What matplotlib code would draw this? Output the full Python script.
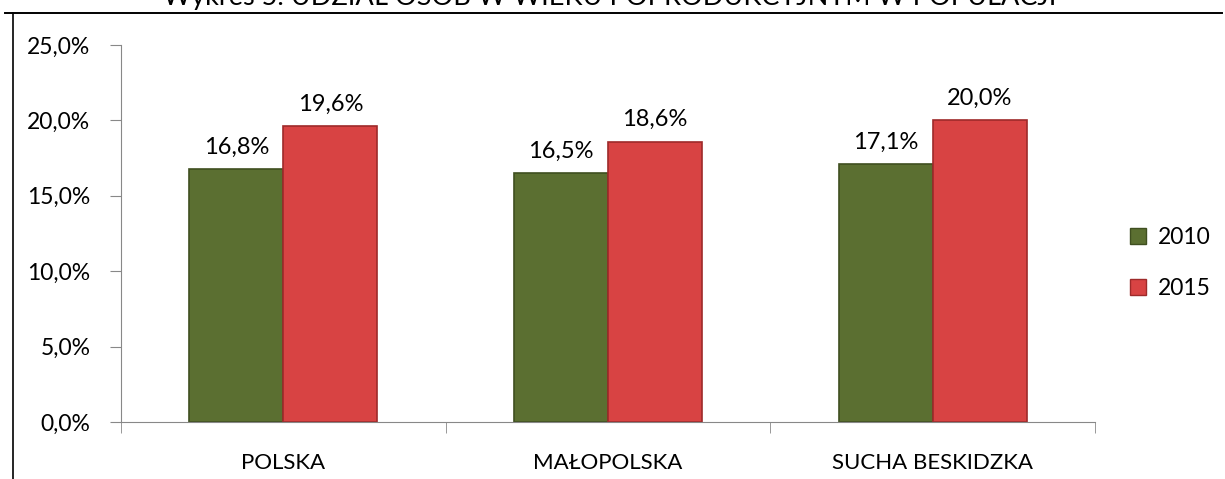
import matplotlib.pyplot as plt
import matplotlib.ticker as ticker
from matplotlib.lines import Line2D
import numpy as np

categories = ['POLSKA', 'MAŁOPOLSKA', 'SUCHA BESKIDZKA']
years = ['2010', '2015']
values_2010 = [16.8, 16.5, 17.1]
values_2015 = [19.6, 18.6, 20.0]

colors = ['#5b6f31', '#d84343']
edges = ['#3f4f20', '#9e2a2a']

plt.rcParams['font.family'] = ['Lato', 'DejaVu Sans']

fig = plt.figure(figsize=(12.25, 4.79), dpi=100)
ax = fig.add_axes([121/1225, 1 - 422/479, (1095-121)/1225, (422-45)/479])

x = np.arange(len(categories))
w = 0.29

for i, (vals, c, e, lab) in enumerate(zip([values_2010, values_2015], colors, edges, years)):
    pos = x + (i - 0.5) * w
    ax.bar(pos, vals, width=w, color=c, edgecolor=e, linewidth=1.2, label=lab)
    for p, v in zip(pos, vals):
        ax.text(p, v + 0.75, f'{v:.1f}%'.replace('.', ','), ha='center', va='bottom', fontsize=17)

ax.set_xlim(-0.5, 2.5)
ax.set_ylim(0, 25)
ax.yaxis.set_major_locator(ticker.MultipleLocator(5))
ax.yaxis.set_major_formatter(ticker.FuncFormatter(lambda v, p: f'{v:.1f}%'.replace('.', ',')))
ax.set_xticks(x)
ax.set_xticklabels(categories)
ax.set_xticks([-0.5, 0.5, 1.5, 2.5], minor=True)
ax.tick_params(axis='x', which='major', length=0, pad=22, labelsize=16)
ax.tick_params(axis='x', which='minor', length=8, color='#888888')
ax.tick_params(axis='y', length=8, color='#888888', labelsize=16.5, pad=14)
for s in ['top', 'right']:
    ax.spines[s].set_visible(False)
for s in ['left', 'bottom']:
    ax.spines[s].set_color('#888888')

handles = [Line2D([], [], marker='s', linestyle='', markersize=11, markerfacecolor=c,
                  markeredgecolor=e) for c, e in zip(colors, edges)]
fig.legend(handles, years, loc='center left', bbox_to_anchor=(1129/1225, 1 - 263/479),
           frameon=False, fontsize=16.5, handlelength=0.8, handletextpad=0.45,
           labelspacing=1.35, borderaxespad=0, borderpad=0)

# chart frame and clipped title
fig.add_artist(Line2D([5/1225, 1222/1225], [1 - 12.5/479] * 2, color='black', lw=1.4))
fig.add_artist(Line2D([13/1225] * 2, [1 - 12.5/479, 0], color='black', lw=1.2))
fig.text(610/1225, 1 - 5/479, 'Wykres 5. UDZIAŁ OSÓB W WIEKU POPRODUKCYJNYM W POPULACJI',
         ha='center', va='baseline', fontsize=19.5)

fig.savefig('out.png', dpi=100)
